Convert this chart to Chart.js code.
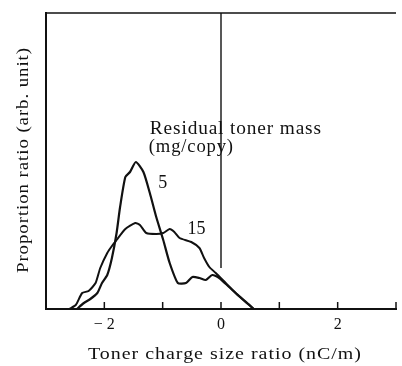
<!DOCTYPE html>
<html>
<head>
<meta charset="utf-8">
<script src="https://cdn.jsdelivr.net/npm/chart.js@4.4.1/dist/chart.umd.min.js"></script>
<style>
  html, body { margin: 0; padding: 0; background: #fff; }
  #wrap { width: 402px; height: 366px; }
</style>
</head>
<body>
<div id="wrap"><canvas id="chart" width="402" height="366"></canvas></div>
<script>
// charge ratio (x) and proportion (arb. unit) for each residual toner mass
const mass15X = [-2.60, -2.49, -2.38, -2.27, -2.15, -2.07, -1.95, -1.87, -1.79, -1.64, -1.47, -1.39, -1.28, -1.11, -0.99, -0.88, -0.80, -0.71, -0.51, -0.37, -0.29, -0.20, -0.09, 0.08, 0.25, 0.42, 0.56];
const mass15Y = [0, 4, 16, 18, 26, 41, 56, 63, 69, 80, 86, 84, 76, 75, 76, 80, 77, 71, 67, 61, 51, 42, 36, 26, 16, 7, 0];

const mass5X = [-2.47, -2.35, -2.24, -2.12, -2.04, -1.95, -1.87, -1.79, -1.73, -1.64, -1.56, -1.46, -1.33, -1.22, -1.11, -0.99, -0.88, -0.74, -0.60, -0.49, -0.37, -0.26, -0.15, -0.03, 0.14, 0.31, 0.47, 0.56];
const mass5Y = [0, 6, 10, 16, 26, 34, 51, 76, 102, 132, 137, 147, 137, 116, 92, 69, 46, 26, 26, 32, 31, 29, 34, 31, 22, 13, 5, 0];

// vertical marker at zero charge
const zeroLineX = [0, 0];
const zeroLineY = [296, 41];

const xTickLabels = { '-2': '\u2212 2', '0': '0', '2': '2' };

const serif = "'Liberation Serif', 'DejaVu Serif', serif";

function toPoints(xs, ys) {
    return xs.map((x, i) => ({ x: x, y: ys[i] }));
}

// draws text left-aligned at (x, y), stretched sideways to the given width
function wideText(ctx, text, x, y, width) {
    ctx.save();
    ctx.textAlign = 'left';
    ctx.letterSpacing = '0.8px';
    const natural = ctx.measureText(text).width;
    ctx.translate(x, y);
    ctx.scale(width / natural, 1);
    ctx.fillText(text, 0, 0);
    ctx.restore();
}

// frame top, inward ticks, axis titles and the in-plot annotations
const decorations = {
    id: 'decorations',
    afterDraw(chart) {
        const ctx = chart.ctx;
        const a = chart.chartArea;
        const xs = chart.scales.x;
        const ys = chart.scales.y;
        ctx.save();
        ctx.strokeStyle = '#111';
        ctx.lineWidth = 1.5;
        ctx.beginPath();
        ctx.moveTo(a.left, a.top);
        ctx.lineTo(a.right, a.top);
        ctx.stroke();

        xs.ticks.forEach(t => {
            const px = xs.getPixelForValue(t.value);
            ctx.beginPath();
            ctx.moveTo(px, a.bottom);
            ctx.lineTo(px, a.bottom - 7);
            ctx.stroke();
        });

        ctx.fillStyle = '#111';
        ctx.textBaseline = 'alphabetic';

        // annotations
        ctx.font = '18px ' + serif;
        const lx = xs.getPixelForValue(-1.22);
        wideText(ctx, 'Residual toner mass', lx, ys.getPixelForValue(175), 172);
        wideText(ctx, '(mg/copy)', lx - 1, ys.getPixelForValue(157), 85);
        ctx.textAlign = 'center';
        ctx.fillText('5', xs.getPixelForValue(-1.0), ys.getPixelForValue(121));
        ctx.fillText('15', xs.getPixelForValue(-0.42), ys.getPixelForValue(75));

        // axis titles
        ctx.font = '16px ' + serif;
        wideText(ctx, 'Toner charge size ratio (nC/m)', 88, 359, 274);

        ctx.translate(28, 273);
        ctx.rotate(-Math.PI / 2);
        wideText(ctx, 'Proportion ratio (arb. unit)', 0, 0, 226);
        ctx.restore();
    }
};

new Chart(document.getElementById('chart'), {
    type: 'line',
    data: {
        datasets: [
            {
                label: '15',
                data: toPoints(mass15X, mass15Y),
                borderColor: '#111',
                borderWidth: 2,
                pointRadius: 0,
                tension: 0.2,
                fill: false
            },
            {
                label: '5',
                data: toPoints(mass5X, mass5Y),
                borderColor: '#111',
                borderWidth: 2.2,
                pointRadius: 0,
                tension: 0.2,
                fill: false
            },
            {
                label: 'zero',
                data: toPoints(zeroLineX, zeroLineY),
                borderColor: '#222',
                borderWidth: 1.5,
                pointRadius: 0,
                fill: false
            }
        ]
    },
    options: {
        responsive: false,
        animation: false,
        layout: { padding: { top: 13, right: 5, left: 0, bottom: 0 } },
        plugins: {
            legend: { display: false },
            tooltip: { enabled: false }
        },
        scales: {
            x: {
                type: 'linear',
                min: -3,
                max: 3,
                grid: { display: false, drawTicks: false },
                border: { display: true, color: '#111', width: 2 },
                ticks: {
                    stepSize: 1,
                    padding: 6,
                    color: '#111',
                    font: { family: serif, size: 16 },
                    callback: v => xTickLabels[String(v)] || ''
                },
                afterFit(scale) { scale.height = 57; }
            },
            y: {
                type: 'linear',
                min: 0,
                max: 296,
                grid: { display: false, drawTicks: false },
                border: { display: true, color: '#111', width: 2 },
                ticks: { display: false },
                afterFit(scale) { scale.width = 46; }
            }
        }
    },
    plugins: [decorations]
});
</script>
</body>
</html>
